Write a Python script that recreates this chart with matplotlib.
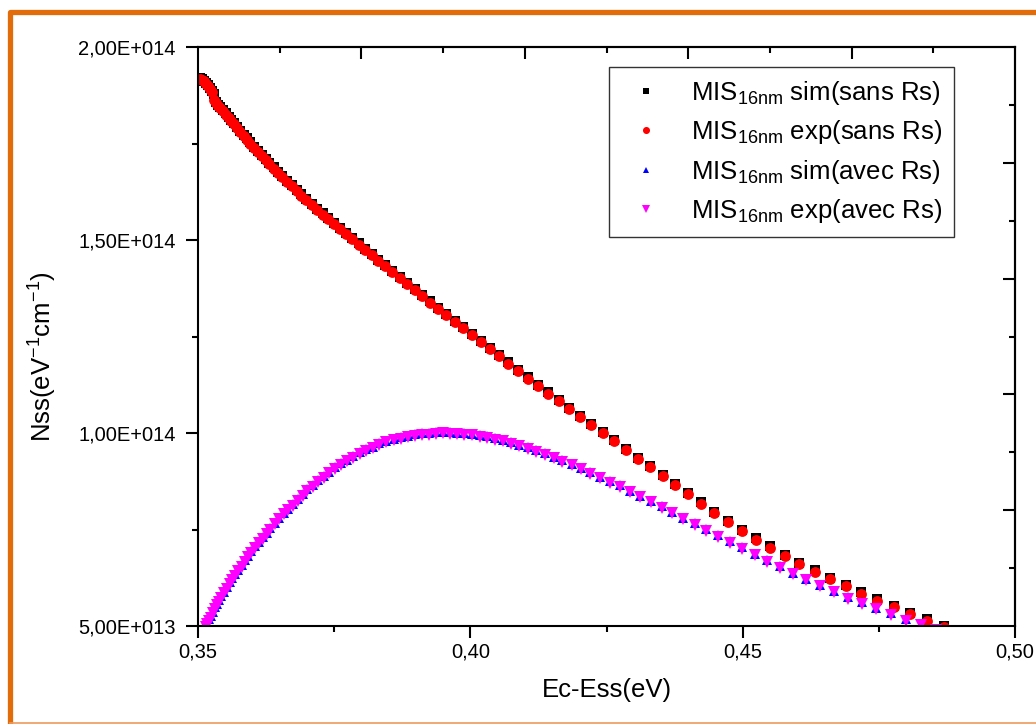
import matplotlib
matplotlib.use('Agg')
import matplotlib.pyplot as plt
import numpy as np
from matplotlib.lines import Line2D
from matplotlib.ticker import NullFormatter

plt.rcParams['font.family'] = ['Liberation Sans', 'DejaVu Sans']
plt.rcParams['mathtext.fontset'] = 'custom'
plt.rcParams['mathtext.rm'] = 'Liberation Sans'
plt.rcParams['mathtext.it'] = 'Liberation Sans:italic'
plt.rcParams['mathtext.bf'] = 'Liberation Sans:bold'

# ---------------- data (Nss in units of 1e14 eV^-1 cm^-1) ----------------
UNIT = 1e14

x_sans = [0.3504, 0.3508, 0.3511, 0.3515, 0.3518, 0.3522, 0.3526, 0.3529, 0.3533, 0.3537,
          0.3541, 0.3546, 0.3551, 0.3556, 0.3561, 0.3566, 0.3572, 0.3578, 0.3584, 0.3590,
          0.3596, 0.3603, 0.3610, 0.3617, 0.3624, 0.3631, 0.3639, 0.3647, 0.3655, 0.3663,
          0.3672, 0.3681, 0.3690, 0.3699, 0.3709, 0.3719, 0.3729, 0.3739, 0.3750, 0.3761,
          0.3772, 0.3783, 0.3795, 0.3807, 0.3819, 0.3831, 0.3844, 0.3857, 0.3870, 0.3884,
          0.3898, 0.3912, 0.3926, 0.3941, 0.3956, 0.3971, 0.3987, 0.4003, 0.4019, 0.4036,
          0.4053, 0.4070, 0.4088, 0.4106, 0.4124, 0.4143, 0.4162, 0.4182, 0.4202, 0.4222,
          0.4243, 0.4264, 0.4286, 0.4308, 0.4330, 0.4353, 0.4376, 0.4400, 0.4424, 0.4448,
          0.4473, 0.4498, 0.4524, 0.4550, 0.4577, 0.4604, 0.4632, 0.4660, 0.4689, 0.4718,
          0.4747, 0.4777, 0.4807, 0.4838, 0.4869]

nss_exp_sans = [1.917, 1.915, 1.911, 1.905, 1.899, 1.892, 1.884, 1.862, 1.855, 1.848,
                1.842, 1.833, 1.825, 1.816, 1.808, 1.800, 1.790, 1.780, 1.770, 1.760,
                1.750, 1.739, 1.728, 1.717, 1.707, 1.696, 1.685, 1.673, 1.662, 1.651,
                1.639, 1.627, 1.615, 1.603, 1.590, 1.578, 1.566, 1.554, 1.541, 1.528,
                1.515, 1.502, 1.488, 1.474, 1.460, 1.446, 1.432, 1.417, 1.402, 1.386,
                1.370, 1.354, 1.338, 1.321, 1.305, 1.288, 1.271, 1.253, 1.236, 1.217,
                1.199, 1.180, 1.161, 1.141, 1.122, 1.102, 1.083, 1.062, 1.041, 1.021,
                0.999, 0.978, 0.956, 0.933, 0.911, 0.888, 0.865, 0.841, 0.817, 0.793,
                0.769, 0.747, 0.724, 0.703, 0.681, 0.661, 0.641, 0.622, 0.603, 0.584,
                0.566, 0.548, 0.530, 0.514, 0.498]

nss_sim_sans = [1.919, 1.917, 1.913, 1.907, 1.901, 1.894, 1.886, 1.879, 1.858, 1.851,
                1.845, 1.836, 1.828, 1.819, 1.811, 1.803, 1.793, 1.783, 1.773, 1.763,
                1.753, 1.742, 1.731, 1.720, 1.710, 1.699, 1.688, 1.676, 1.665, 1.654,
                1.642, 1.630, 1.618, 1.606, 1.593, 1.581, 1.569, 1.557, 1.544, 1.531,
                1.518, 1.505, 1.491, 1.477, 1.463, 1.449, 1.435, 1.420, 1.405, 1.389,
                1.373, 1.357, 1.341, 1.324, 1.308, 1.291, 1.274, 1.256, 1.239, 1.220,
                1.202, 1.183, 1.164, 1.144, 1.125, 1.105, 1.086, 1.065, 1.044, 1.024,
                1.002, 0.981, 0.959, 0.936, 0.914, 0.891, 0.868, 0.844, 0.820, 0.796,
                0.772, 0.750, 0.727, 0.706, 0.684, 0.664, 0.644, 0.625, 0.606, 0.587,
                0.569, 0.551, 0.533, 0.517, 0.501]

x_avec = [0.3514, 0.3517, 0.3520, 0.3523, 0.3527, 0.3531, 0.3535, 0.3539, 0.3543, 0.3548,
          0.3553, 0.3558, 0.3563, 0.3568, 0.3574, 0.3580, 0.3586, 0.3592, 0.3598, 0.3605,
          0.3612, 0.3619, 0.3626, 0.3633, 0.3641, 0.3649, 0.3657, 0.3665, 0.3674, 0.3683,
          0.3692, 0.3701, 0.3711, 0.3721, 0.3731, 0.3741, 0.3752, 0.3763, 0.3774, 0.3785,
          0.3797, 0.3809, 0.3821, 0.3833, 0.3846, 0.3859, 0.3872, 0.3885, 0.3898, 0.3911,
          0.3924, 0.3937, 0.3950, 0.3963, 0.3976, 0.3989, 0.4003, 0.4017, 0.4031, 0.4045,
          0.4060, 0.4075, 0.4090, 0.4105, 0.4121, 0.4137, 0.4153, 0.4169, 0.4186, 0.4203,
          0.4220, 0.4238, 0.4256, 0.4274, 0.4293, 0.4312, 0.4331, 0.4351, 0.4371, 0.4391,
          0.4412, 0.4433, 0.4455, 0.4477, 0.4499, 0.4522, 0.4545, 0.4569, 0.4593, 0.4617,
          0.4642, 0.4667, 0.4693, 0.4719, 0.4745, 0.4772, 0.4799, 0.4827, 0.4855]

nss_exp_avec = [0.497, 0.505, 0.514, 0.522, 0.533, 0.544, 0.554, 0.563, 0.573, 0.585,
                0.597, 0.609, 0.620, 0.630, 0.642, 0.654, 0.666, 0.678, 0.690, 0.702,
                0.714, 0.726, 0.738, 0.750, 0.764, 0.777, 0.789, 0.800, 0.812, 0.825,
                0.838, 0.850, 0.861, 0.873, 0.884, 0.896, 0.908, 0.917, 0.927, 0.936,
                0.946, 0.954, 0.961, 0.969, 0.976, 0.981, 0.985, 0.989, 0.993, 0.995,
                0.996, 0.998, 0.999, 0.998, 0.997, 0.996, 0.994, 0.990, 0.987, 0.983,
                0.978, 0.972, 0.966, 0.959, 0.951, 0.943, 0.935, 0.926, 0.916, 0.906,
                0.895, 0.883, 0.871, 0.860, 0.847, 0.834, 0.821, 0.806, 0.792, 0.777,
                0.762, 0.747, 0.731, 0.715, 0.700, 0.683, 0.667, 0.651, 0.634, 0.618,
                0.603, 0.587, 0.571, 0.557, 0.543, 0.529, 0.514, 0.502, 0.489]

nss_sim_avec = [0.501, 0.509, 0.518, 0.526, 0.537, 0.548, 0.558, 0.567, 0.577, 0.589,
                0.601, 0.613, 0.624, 0.634, 0.646, 0.658, 0.670, 0.682, 0.694, 0.706,
                0.718, 0.730, 0.742, 0.754, 0.768, 0.781, 0.793, 0.804, 0.816, 0.829,
                0.842, 0.854, 0.865, 0.877, 0.888, 0.900, 0.912, 0.921, 0.931, 0.940,
                0.950, 0.958, 0.965, 0.973, 0.980, 0.985, 0.989, 0.993, 0.997, 0.999,
                1.000, 1.002, 1.003, 1.002, 1.001, 1.000, 0.998, 0.994, 0.991, 0.987,
                0.982, 0.976, 0.970, 0.963, 0.955, 0.947, 0.939, 0.930, 0.920, 0.910,
                0.899, 0.887, 0.875, 0.864, 0.851, 0.838, 0.825, 0.810, 0.796, 0.781,
                0.766, 0.751, 0.735, 0.719, 0.704, 0.687, 0.671, 0.655, 0.638, 0.622,
                0.607, 0.591, 0.575, 0.561, 0.547, 0.533, 0.518, 0.506, 0.493]

series_labels = [r'MIS$_{\mathrm{16nm}}$ sim(sans Rs)',
                 r'MIS$_{\mathrm{16nm}}$ exp(sans Rs)',
                 r'MIS$_{\mathrm{16nm}}$ sim(avec Rs)',
                 r'MIS$_{\mathrm{16nm}}$ exp(avec Rs)']

xticks_major = [0.35, 0.40, 0.45, 0.50]
xtick_labels = ['0,35', '0,40', '0,45', '0,50']
xticks_minor = [0.375, 0.425, 0.475]
yticks_major = [5e13, 1e14, 1.5e14, 2e14]
ytick_labels = ['5,00E+013', '1,00E+014', '1,50E+014', '2,00E+014']
yticks_minor = [7.5e13, 1.25e14, 1.75e14]
top_major = [0.38, 0.41, 0.44, 0.47]
top_minor = [0.365, 0.395, 0.425, 0.455, 0.485]
right_major = [8e13, 1.1e14, 1.4e14, 1.7e14]
right_minor = [6.5e13, 9.5e13, 1.25e14, 1.55e14, 1.85e14]

# ---------------- figure ----------------
W, H = 1036, 724
fig = plt.figure(figsize=(W / 100, H / 100), dpi=100)
fig.patch.set_facecolor('white')
ax = fig.add_axes([198 / W, 1 - 626 / H, 817 / W, 579 / H])

ax.plot(x_sans, np.array(nss_sim_sans) * UNIT, ls='none', marker='s', ms=7.0,
        color='black', mew=0, label=series_labels[0])
ax.plot(x_sans, np.array(nss_exp_sans) * UNIT, ls='none', marker='o', ms=7.8,
        color='#ff0000', mew=0, label=series_labels[1])
ax.plot(x_avec, np.array(nss_sim_avec) * UNIT, ls='none', marker='^', ms=7.6,
        color='#0000ff', mew=0, label=series_labels[2])
ax.plot(x_avec, np.array(nss_exp_avec) * UNIT, ls='none', marker='v', ms=8.6,
        color='#ff00ff', mew=0, label=series_labels[3])

ax.set_xlim(0.35, 0.50)
ax.set_ylim(5e13, 2e14)
ax.set_xticks(xticks_major, xtick_labels)
ax.set_xticks(xticks_minor, minor=True)
ax.set_yticks(yticks_major, ytick_labels)
ax.set_yticks(yticks_minor, minor=True)
ax.tick_params(which='major', direction='out', length=8.6, width=1.5, labelsize=14.5,
               colors='black')
ax.tick_params(which='minor', direction='out', length=4.6, width=1.5)
ax.tick_params(axis='x', which='major', pad=3.5)
ax.tick_params(axis='y', which='major', pad=7.5)
ax.tick_params(top=False, right=False, which='both')
for sp in ax.spines.values():
    sp.set_linewidth(1.5)

secx = ax.secondary_xaxis('top')
secx.set_xticks(top_major)
secx.set_xticks(top_minor, minor=True)
secx.xaxis.set_major_formatter(NullFormatter())
secx.tick_params(which='major', direction='in', length=8.6, width=1.5)
secx.tick_params(which='minor', direction='in', length=4.6, width=1.5)
secx.spines['top'].set_linewidth(1.5)

secy = ax.secondary_yaxis('right')
secy.set_yticks(right_major)
secy.set_yticks(right_minor, minor=True)
secy.yaxis.set_major_formatter(NullFormatter())
secy.tick_params(which='major', direction='in', length=8.6, width=1.5)
secy.tick_params(which='minor', direction='in', length=4.6, width=1.5)
secy.spines['right'].set_linewidth(1.5)

ax.set_xlabel('Ec-Ess(eV)', fontsize=18.5)
ax.xaxis.set_label_coords(0.5, -0.090)
ax.set_ylabel(r'Nss(eV$^{\mathrm{-1}}$cm$^{\mathrm{-1}}$)', fontsize=18.5)
ax.yaxis.set_label_coords(-0.170, 0.465)

leg = ax.legend(loc='upper right', bbox_to_anchor=(0.925, 0.9655), borderaxespad=0,
                prop={'size': 18.5}, frameon=True, fancybox=False, edgecolor='black',
                handlelength=2.0, handletextpad=0.75, labelspacing=0.45,
                borderpad=0.45, markerscale=0.65)
leg.get_frame().set_linewidth(1.0)

# orange frame around the figure
orange = '#E36C0A'
xl = 9.5 / W
fig.add_artist(Line2D([xl, xl, 1.01], [-0.01, 1 - 12 / H, 1 - 12 / H], transform=fig.transFigure,
                      color=orange, lw=3.8, solid_joinstyle='round', solid_capstyle='butt'))
fig.add_artist(Line2D([xl, 1.0], [1 - 722.8 / H, 1 - 722.8 / H], transform=fig.transFigure,
                      color='#EE9A5A', lw=1.2))

fig.savefig('out.png', dpi=100, facecolor='white')
